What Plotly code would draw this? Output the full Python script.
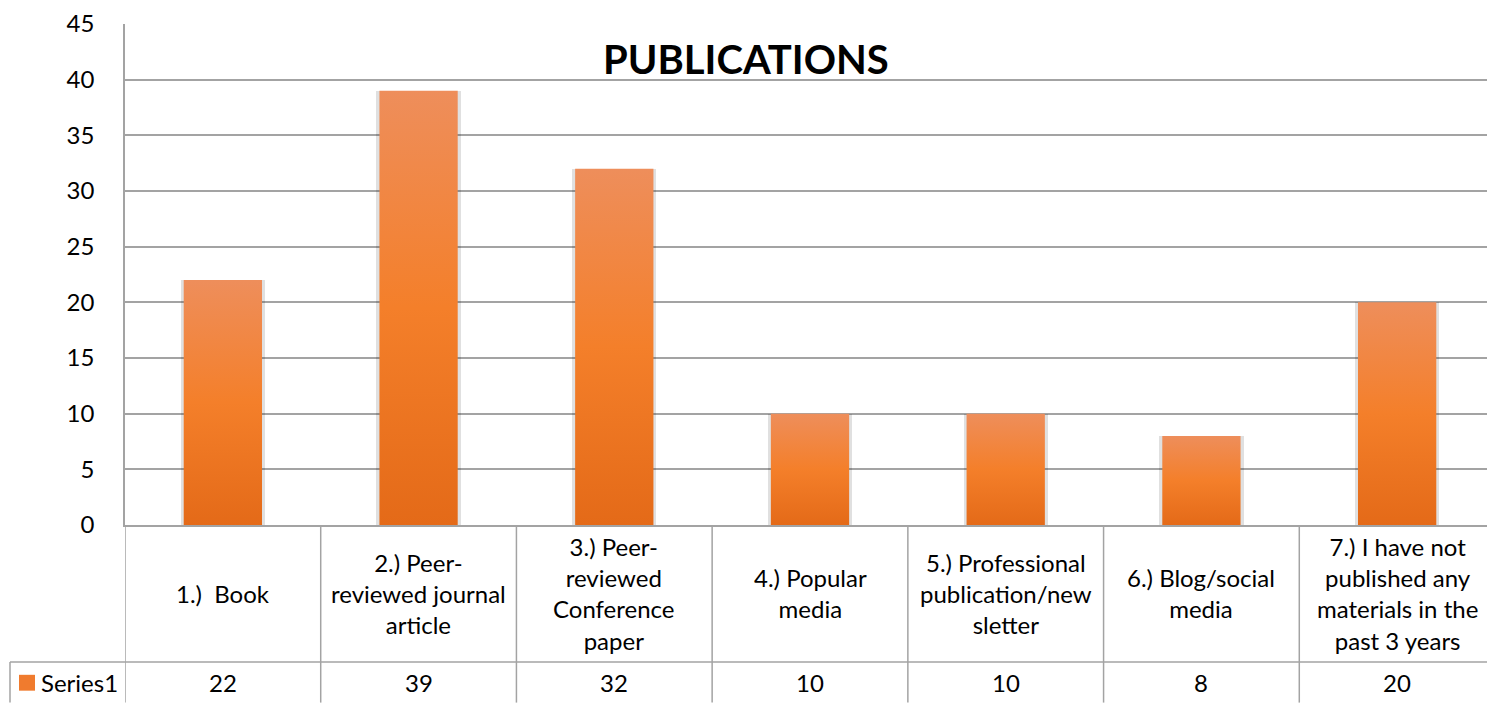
import plotly.graph_objects as go

# ---- data ----
categories = [
    "1.)  Book",
    "2.) Peer-<br>reviewed journal<br>article",
    "3.) Peer-<br>reviewed<br>Conference<br>paper",
    "4.) Popular<br>media",
    "5.) Professional<br>publication/new<br>sletter",
    "6.) Blog/social<br>media",
    "7.) I have not<br>published any<br>materials in the<br>past 3 years",
]
values = [22, 39, 32, 10, 10, 8, 20]
series_name = "Series1"
title_text = "PUBLICATIONS"
y_ticks = [0, 5, 10, 15, 20, 25, 30, 35, 40, 45]

# ---- layout constants (pixels) ----
BODY = 8                      # default page margin of the html body
W, H = 1495 - BODY, 704 - BODY
ML, MR, MT, MB = 125 - BODY, 0, 20 - BODY, 179
ROW1_PX = 138                 # height of the category-label row
PLOT_H = H - MT - MB
PLOT_W = W - ML - MR
FONT = "Lato, Carlito, Calibri, sans-serif"
GRID = "#A3A3A3"
BAR_HALF = 0.2
FS = 24

def py(px_below_axis):
    """paper y coordinate for a pixel distance below the x axis"""
    return -px_below_axis / PLOT_H

def pxx(px_from_axis):
    return px_from_axis / PLOT_W

fig = go.Figure()

# soft shadow behind bars
fig.add_trace(go.Bar(
    x=list(range(len(values))), y=values, width=2 * BAR_HALF + 0.03,
    marker=dict(color="rgba(0,0,0,0.12)", line=dict(width=0)),
    hoverinfo="skip", showlegend=False,
))

# gradient bars
for i, v in enumerate(values):
    fig.add_trace(go.Scatter(
        x=[i - BAR_HALF, i + BAR_HALF, i + BAR_HALF, i - BAR_HALF, i - BAR_HALF],
        y=[0, 0, v, v, 0],
        mode="lines", line=dict(width=0),
        fill="toself",
        fillgradient=dict(
            type="vertical",
            colorscale=[[0, "#E46A18"], [0.5, "#F47F2A"], [1, "#EE8E5B"]],
        ),
        name=series_name, showlegend=False, hoverinfo="skip",
    ))

shapes = []
line = dict(color=GRID, width=1.5)
# vertical column dividers in the data table
for i in range(len(values) + 1):
    shapes.append(dict(type="line", xref="x", yref="paper",
                       x0=i - 0.5, x1=i - 0.5, y0=0, y1=py(MB), line=line))
# horizontal row divider and legend cell
shapes.append(dict(type="line", xref="paper", yref="paper",
                   x0=pxx(10 - 125), x1=1, y0=py(ROW1_PX), y1=py(ROW1_PX), line=line))
shapes.append(dict(type="line", xref="paper", yref="paper",
                   x0=pxx(10 - 125), x1=pxx(10 - 125), y0=py(ROW1_PX), y1=py(MB), line=line))
# legend key square
shapes.append(dict(type="rect", xref="paper", yref="paper",
                   x0=pxx(19 - 125), x1=pxx(35 - 125),
                   y0=py(ROW1_PX + 13), y1=py(ROW1_PX + 29),
                   line=dict(width=0),
                   fillcolor="#F07B2E"))

annotations = []
row1_mid = py(ROW1_PX / 2)
row2_mid = py((ROW1_PX + MB) / 2)
for i, (c, v) in enumerate(zip(categories, values)):
    annotations.append(dict(x=i, y=row1_mid, xref="x", yref="paper", text=c,
                            showarrow=False, yanchor="middle", xanchor="center",
                            align="center", font=dict(size=FS, family=FONT, color="#000")))
    annotations.append(dict(x=i, y=row2_mid, xref="x", yref="paper", text=str(v),
                            showarrow=False, yanchor="middle", xanchor="center",
                            font=dict(size=FS, family=FONT, color="#000")))
annotations.append(dict(x=pxx(39 - 125), y=row2_mid, xref="paper", yref="paper",
                        text=series_name, showarrow=False, xanchor="left",
                        yanchor="middle", font=dict(size=FS, family=FONT, color="#000")))
annotations.append(dict(x=pxx(746 - 125), y=1 - (55 - 20) / PLOT_H,
                        xref="paper", yref="paper", text="<b>" + title_text + "</b>",
                        showarrow=False, xanchor="center", yanchor="middle",
                        font=dict(size=40, family=FONT, color="#000")))

fig.update_layout(
    width=W, height=H,
    margin=dict(l=ML, r=MR, t=MT, b=MB, pad=0),
    paper_bgcolor="white", plot_bgcolor="white",
    showlegend=False,
    shapes=shapes, annotations=annotations,
    xaxis=dict(range=[-0.5, len(values) - 0.5], showgrid=False, zeroline=False,
               showticklabels=False, ticks="", showline=True, linecolor=GRID,
               linewidth=1.5, fixedrange=True),
    yaxis=dict(range=[0, 45], tickvals=y_ticks, showgrid=True, gridcolor=GRID,
               gridwidth=1.5, zeroline=False, showline=True, linecolor=GRID,
               linewidth=1.5, ticks="", ticklabelstandoff=24,
               ticklabeloverflow="allow",
               tickfont=dict(size=FS, family=FONT, color="#000"), fixedrange=True),
    bargap=0,
)

fig.write_html("out.html")
